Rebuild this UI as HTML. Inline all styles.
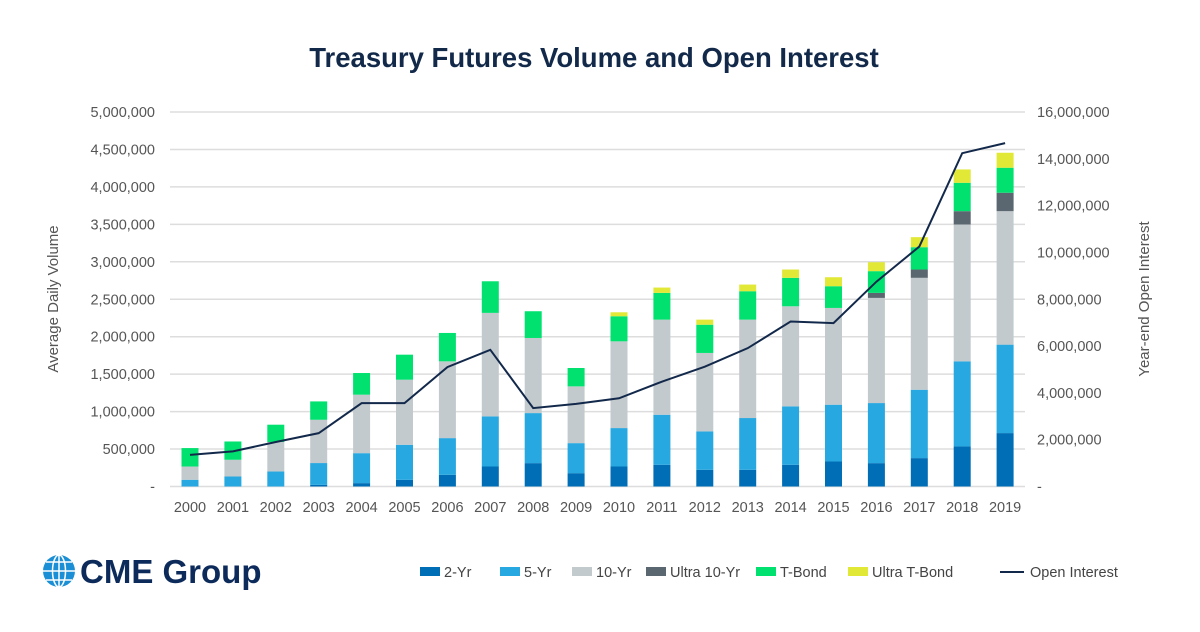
<!DOCTYPE html>
<html><head><meta charset="utf-8"><style>
body{margin:0;background:#fff;width:1200px;height:627px;overflow:hidden;font-family:"Liberation Sans",sans-serif}
</style></head><body>
<svg width="1200" height="627" id="c">
<text x="594" y="67" text-anchor="middle" font-size="27.5" font-weight="bold" fill="#12294a">Treasury Futures Volume and Open Interest</text>
<text transform="translate(58,299) rotate(-90)" text-anchor="middle" font-size="15" fill="#555">Average Daily Volume</text>
<text transform="translate(1149,299) rotate(-90)" text-anchor="middle" font-size="15" fill="#555">Year-end Open Interest</text>
<g>
<circle cx="59" cy="571" r="16" fill="#1b8fd6"/>
<path d="M43 571h32M59 555v32M46 562h26M46 580h26" stroke="#fff" stroke-width="1.5"/>
<ellipse cx="59" cy="571" rx="6.5" ry="16" fill="none" stroke="#fff" stroke-width="1.5"/>
<text x="80" y="583" font-size="33" font-weight="bold" fill="#0c2a5a">CME Group</text>
</g>
<g id="grid"></g><g id="bars"></g><g id="line"></g><g id="legend"></g>
</svg>
<script>
const years=["2000","2001","2002","2003","2004","2005","2006","2007","2008","2009","2010","2011","2012","2013","2014","2015","2016","2017","2018","2019"];
const twoYr=[0,0,0,22,45,89,156,267,312,178,267,290,223,223,290,334,312,379,535,713];
const fiveYr=[90,134,200,291,400,468,490,669,668,401,513,668,512,691,780,758,802,913,1136,1181];
const tenYr=[177,223,394,578,781,869,1025,1382,1003,758,1158,1270,1048,1314,1336,1292,1404,1494,1827,1782];
const ultra10=[0,0,0,0,0,0,0,0,0,0,0,0,0,0,0,0,67,111,178,246];
const tBond=[246,244,231,245,289,334,379,422,357,245,335,357,377,379,380,290,290,298,379,334];
const ultraT=[0,0,0,0,0,0,0,0,0,0,53,71,68,89,111,120,119,134,178,200];
const openInterest=[1.35,1.5,1.9,2.28,3.56,3.56,5.1,5.84,3.35,3.53,3.77,4.48,5.12,5.91,7.05,6.98,8.75,10.25,14.24,14.67];
const leftTicks=["-","500,000","1,000,000","1,500,000","2,000,000","2,500,000","3,000,000","3,500,000","4,000,000","4,500,000","5,000,000"];
const rightTicks=["-","2,000,000","4,000,000","6,000,000","8,000,000","10,000,000","12,000,000","14,000,000","16,000,000"];
const NS="http://www.w3.org/2000/svg";
const y0=486.5,yTop=112;
const yL=v=>y0-(v/5000)*(y0-yTop);
const yR=v=>y0-(v/16)*(y0-yTop);
const xC=i=>190+i*42.9;
function mk(t,a,p){const e=document.createElementNS(NS,t);for(const k in a)e.setAttribute(k,a[k]);p.appendChild(e);return e;}
const g=document.getElementById('grid');
leftTicks.forEach((t,i)=>{const y=yL(i*500);
 const l=mk('line',{x1:170,x2:1025,y1:y,y2:y,stroke:'#ddd','stroke-width':1.5},g);
 
 
 const tx=mk('text',{x:155,y:y+5,'text-anchor':'end','font-size':14.5,fill:'#555'},g);tx.textContent=t;
 
 });
rightTicks.forEach((t,i)=>{const y=yR(i*2);
 const tx=mk('text',{x:1037,y:y+5,'font-size':14.5,fill:'#555'},g);tx.textContent=t;
 
 });
years.forEach((t,i)=>{const tx=mk('text',{x:xC(i),y:512,'text-anchor':'middle','font-size':14.5,fill:'#555'},g);tx.textContent=t;
 
 });
const series=[["2-Yr",twoYr,"#006eb6"],["5-Yr",fiveYr,"#27a8e0"],["10-Yr",tenYr,"#c3cacd"],["Ultra 10-Yr",ultra10,"#5b6770"],["T-Bond",tBond,"#00e16f"],["Ultra T-Bond",ultraT,"#e2e836"]];
const b=document.getElementById('bars');
years.forEach((yr,i)=>{let cum=0;series.forEach(s=>{const v=s[1][i];if(v<=0)return;
 const r=mk('rect',{x:xC(i)-8.5,width:17,y:yL(cum+v),height:yL(cum)-yL(cum+v),fill:s[2]},b);
 
 cum+=v;});});
const p=mk('polyline',{points:openInterest.map((v,i)=>xC(i)+','+yR(v)).join(' '),fill:'none',stroke:'#13294b','stroke-width':2},document.getElementById('line'));


const lg=document.getElementById('legend');
const lx=[420,500,572,646,756,848,1000];
series.forEach((s,i)=>{const it=mk('g',{},lg);
 
 
 mk('rect',{x:lx[i],y:567,width:20,height:9,fill:s[2]},it);
 const t=mk('text',{x:lx[i]+24,y:577,'font-size':14.5,fill:'#444'},it);t.textContent=s[0];});
const it=mk('g',{},lg);


mk('line',{x1:1000,x2:1024,y1:572,y2:572,stroke:'#13294b','stroke-width':2},it);
const t=mk('text',{x:1030,y:577,'font-size':14.5,fill:'#444'},it);t.textContent="Open Interest";
</script>
</body></html>
